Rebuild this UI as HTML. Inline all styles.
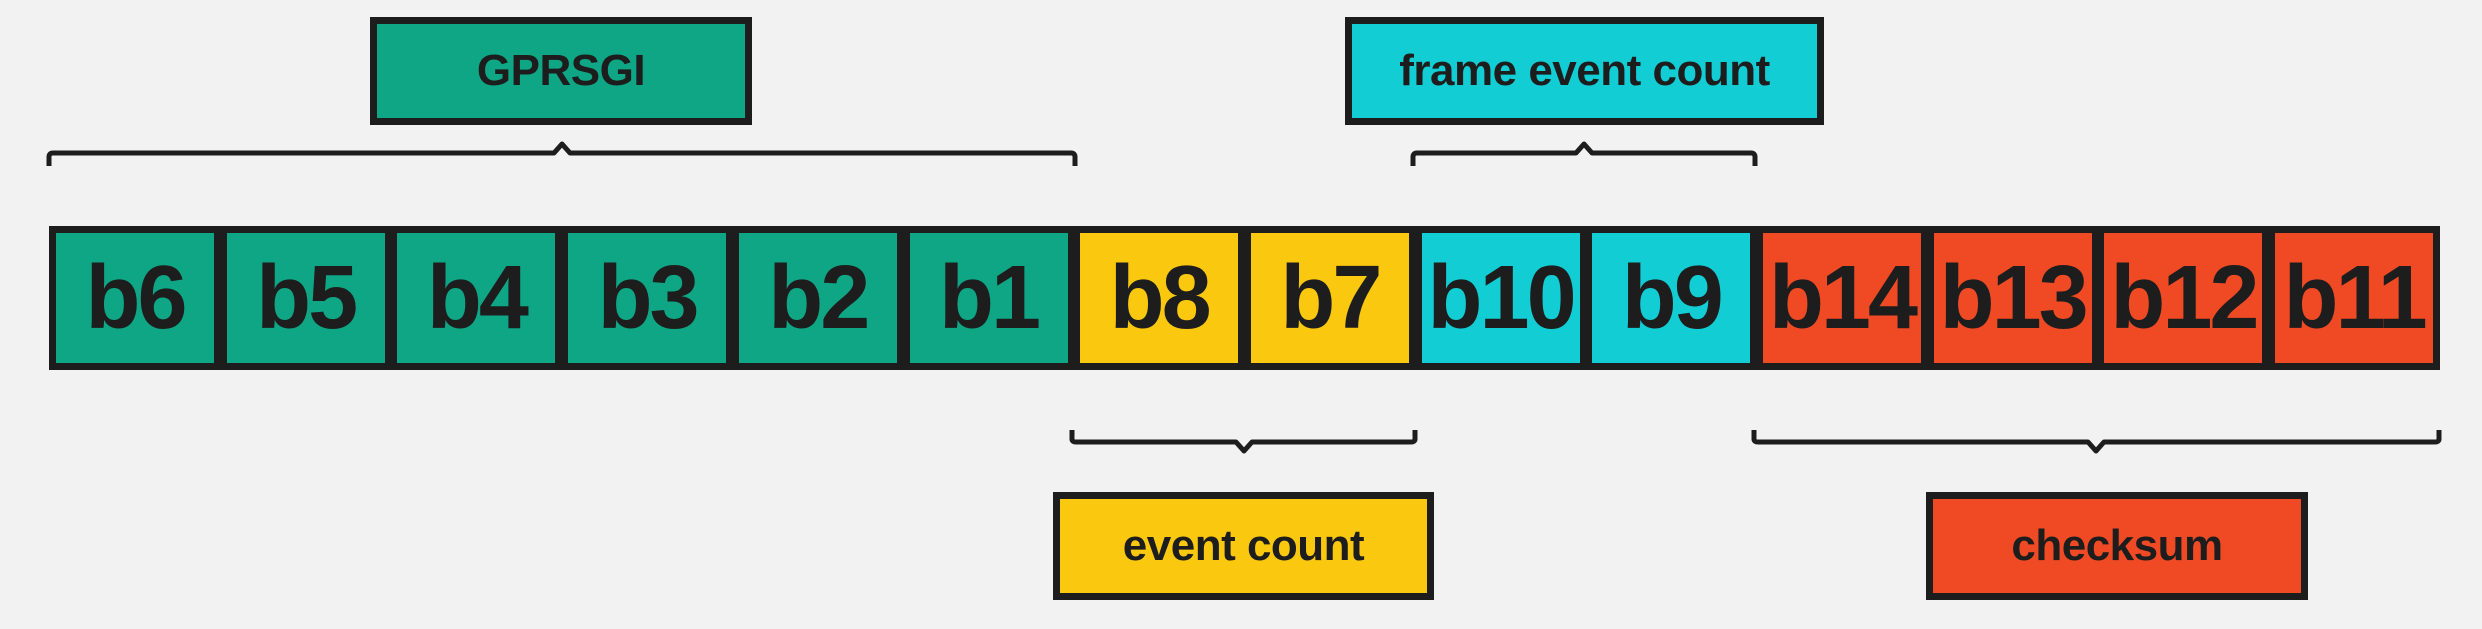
<!DOCTYPE html>
<html><head><meta charset="utf-8"><style>
html,body{margin:0;padding:0;}
body{width:2482px;height:629px;background:#f2f2f2;position:relative;overflow:hidden;font-family:"Liberation Sans",sans-serif;}
.box{position:absolute;box-sizing:border-box;border:7px solid #1d1d1d;display:flex;align-items:center;justify-content:center;font-weight:bold;color:#1d1d1d;}
.lbl{font-size:44px;letter-spacing:-0.5px;}
.cell{top:226px;height:144px;width:172px;font-size:90px;letter-spacing:-3px;}
.t{background:#0fa685;}.y{background:#f9c80f;}.c{background:#13cdd4;}.r{background:#f04a25;}
svg{position:absolute;left:0;top:0;}
</style></head><body>
<div class="box lbl t" style="left:370px;top:17px;width:382px;height:108px;">GPRSGI</div>
<div class="box lbl c" style="left:1345px;top:17px;width:479px;height:108px;">frame event count</div>
<div class="box lbl y" style="left:1053px;top:492px;width:381px;height:108px;">event count</div>
<div class="box lbl r" style="left:1926px;top:492px;width:382px;height:108px;">checksum</div>
<div id="cells"></div>
<svg width="2482" height="629">
<g fill="none" stroke="#1d1d1d" stroke-width="5" stroke-linejoin="round">
<path d="M49,166 L49,157 Q49,153 53,153 L554,153 L562,144 L570,153 L1071,153 Q1075,153 1075,157 L1075,166"/>
<path d="M1413,166 L1413,157 Q1413,153 1417,153 L1576,153 L1584,144 L1592,153 L1751,153 Q1755,153 1755,157 L1755,166"/>
<path d="M1072,430 L1072,439 Q1072,442 1076,442 L1236,442 L1244,451 L1252,442 L1411,442 Q1415,442 1415,439 L1415,430"/>
<path d="M1754,430 L1754,439 Q1754,442 1758,442 L2088,442 L2096,451 L2104,442 L2435,442 Q2439,442 2439,439 L2439,430"/>
</g></svg>
<script>
const labels=["b6","b5","b4","b3","b2","b1","b8","b7","b10","b9","b14","b13","b12","b11"];
const groups=["t","t","t","t","t","t","y","y","c","c","r","r","r","r"];
const host=document.getElementById('cells');
labels.forEach((l,i)=>{
  const d=document.createElement('div');
  d.className='box cell '+groups[i];
  d.style.left=(49+i*170.7)+'px';
  d.textContent=l;
  
  
  host.appendChild(d);
});
</script>
</body></html>
